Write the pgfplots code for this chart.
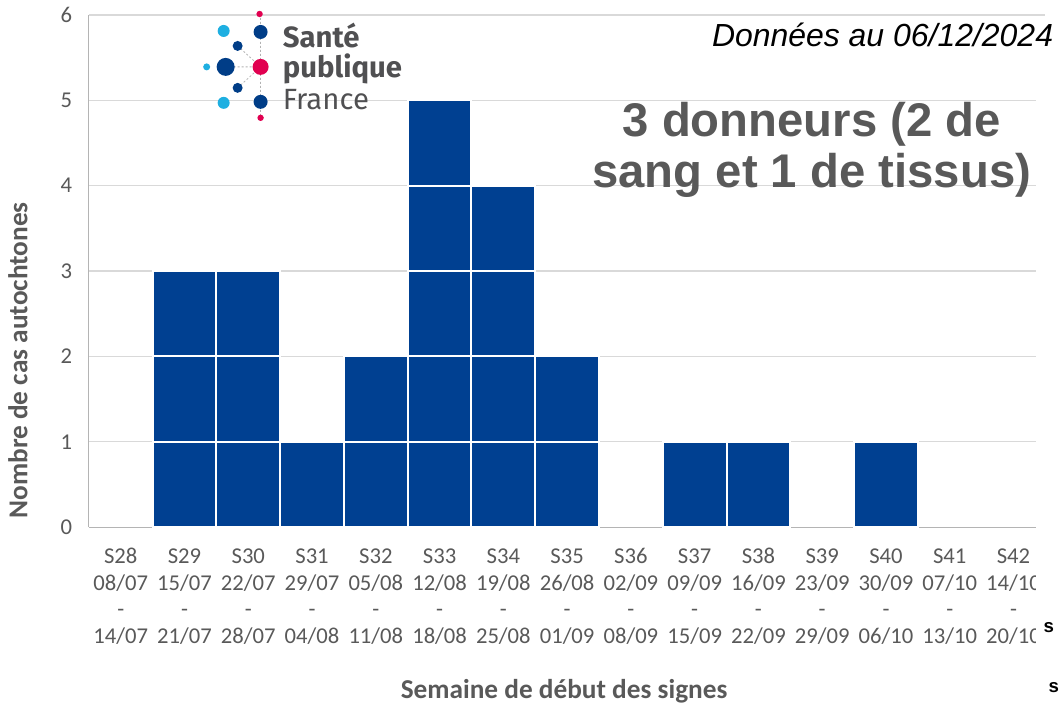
\documentclass[border=0pt]{standalone}
\usepackage{pgfplots}
\pgfplotsset{compat=1.18}
\usepackage{fontspec}
\setmainfont{Carlito}
\newfontfamily\arial{Liberation Sans}
\newfontfamily\fira{Fira Sans}
\definecolor{barblue}{RGB}{0,64,145}
\definecolor{txtgray}{RGB}{89,89,89}
\definecolor{gridgray}{RGB}{217,217,217}
\definecolor{axgray}{RGB}{180,180,180}
\definecolor{logoblue}{RGB}{0,61,135}
\definecolor{logolight}{RGB}{30,175,225}
\definecolor{logopink}{RGB}{225,0,80}
\definecolor{logogray}{RGB}{80,80,82}
\newcommand{\wk}[3]{\strut #1\\\strut #2\\\strut -\\\strut #3}
\begin{document}
\begin{tikzpicture}
\begin{scope}[x=0.75pt,y=-0.75pt]
\path[use as bounding box] (0,0) rectangle (1059,708);
\end{scope}
\begin{axis}[
  at={(66.75pt,-396pt)}, anchor=south west,
  scale only axis, width=718.5pt, height=384.75pt,
  xmin=-0.5, xmax=14.5, ymin=0, ymax=6,
  axis x line*=bottom, axis y line*=left,
  axis line style={draw=axgray, line width=0.9pt, -},
  ymajorgrids, grid style={draw=gridgray, line width=0.9pt},
  major tick length=0pt,
  ytick={0,1,2,3,4,5,6},
  xtick={0,1,...,14},
  xticklabels={{\wk{S28}{08/07}{14/07}},{\wk{S29}{15/07}{21/07}},{\wk{S30}{22/07}{28/07}},{\wk{S31}{29/07}{04/08}},{\wk{S32}{05/08}{11/08}},{\wk{S33}{12/08}{18/08}},{\wk{S34}{19/08}{25/08}},{\wk{S35}{26/08}{01/09}},{\wk{S36}{02/09}{08/09}},{\wk{S37}{09/09}{15/09}},{\wk{S38}{16/09}{22/09}},{\wk{S39}{23/09}{29/09}},{\wk{S40}{30/09}{06/10}},{\wk{S41}{07/10}{13/10}},{\wk{S42}{14/10}{20/10}}},
  xticklabel style={align=center, font=\fontsize{17}{20}\selectfont, text=txtgray, anchor=north, inner sep=0pt, yshift=-13pt},
  yticklabel style={font=\fontsize{17}{20}\selectfont, text=txtgray, xshift=-9pt},
  /pgf/number format/assume math mode=true,
  unit/.style={ybar, bar shift=0pt, bar width=1, fill=barblue, draw=white, line width=1.5pt, mark=none},
]
% total number of cases per week
\addplot[unit] coordinates {(1,3)(2,3)(3,1)(4,2)(5,5)(6,4)(7,2)(9,1)(10,1)(12,1)};
% unit blocks (white separators between cases)
\addplot[unit] coordinates {(5,4)};
\addplot[unit] coordinates {(5,3)(6,3)};
\addplot[unit] coordinates {(1,2)(2,2)(5,2)(6,2)};
\addplot[unit] coordinates {(1,1)(2,1)(4,1)(5,1)(6,1)(7,1)};
\end{axis}
\begin{scope}[x=0.75pt,y=-0.75pt]
% white cover on the right edge, as in the reference
\fill[white] (1038,20) rectangle (1060,709);
% logo
\draw[gray!60, dash pattern=on 1.5pt off 1.5pt, line width=0.6pt] (261,14)--(261,118) (226,67)--(261,67) (238,46)--(261,67)--(238,88);
\fill[logopink] (260,14) circle (3.2);
\fill[logoblue] (261,32) circle (7);
\fill[logolight] (224,31) circle (6);
\fill[logoblue] (238,46) circle (5);
\fill[logolight] (207,67) circle (3.5);
\fill[logoblue] (226,67) circle (9);
\fill[logopink] (261,67) circle (8);
\fill[logoblue] (238,88) circle (5);
\fill[logolight] (224,103) circle (6);
\fill[logoblue] (261,102) circle (7);
\fill[logopink] (261,118) circle (3.2);
\node[anchor=base west, inner sep=0pt, text=logogray, font=\fira\bfseries\fontsize{22}{22}\selectfont] at (283,48) {Santé};
\node[anchor=base west, inner sep=0pt, text=logogray, font=\fira\bfseries\fontsize{22}{22}\selectfont] at (283,78) {publique};
\node[anchor=base west, inner sep=0pt, text=logogray, font=\fira\fontsize{22}{22}\selectfont] at (283,110) {France};
% annotations
\node[anchor=base east, inner sep=0pt, font=\arial\itshape\fontsize{24}{24}\selectfont] at (1055,47) {Données au 06/12/2024};
\node[anchor=base, inner sep=0pt, text=txtgray, font=\arial\bfseries\fontsize{35.5}{35.5}\selectfont] at (813,137) {3 donneurs (2 de};
\node[anchor=base, inner sep=0pt, text=txtgray, font=\arial\bfseries\fontsize{35.5}{35.5}\selectfont] at (813,188) {sang et 1 de tissus)};
\node[anchor=base west, inner sep=0pt, font=\arial\bfseries\fontsize{14}{14}\selectfont] at (1045,633) {s};
\node[anchor=base west, inner sep=0pt, font=\arial\bfseries\fontsize{14}{14}\selectfont] at (1050,694) {s};
% axis titles
\node[rotate=90, inner sep=0pt, text=txtgray, font=\bfseries\fontsize{20.5}{20.5}\selectfont] at (18,361) {Nombre de cas autochtones};
\node[anchor=base, inner sep=0pt, text=txtgray, font=\bfseries\fontsize{20.5}{20.5}\selectfont] at (565,700) {Semaine de début des signes};
\end{scope}
\end{tikzpicture}
\end{document}
